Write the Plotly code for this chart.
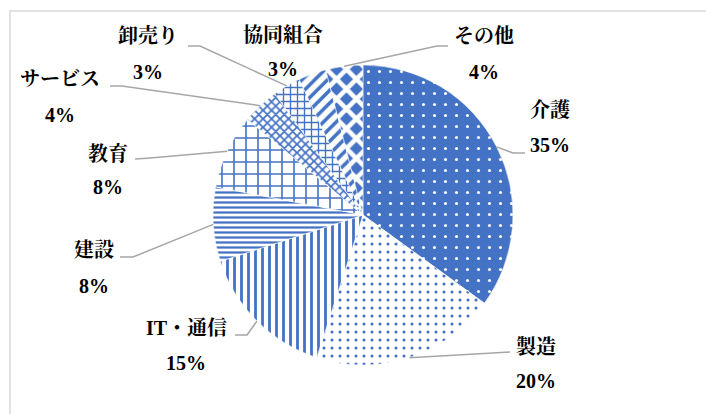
import plotly.graph_objects as go
import math

categories = ["介護", "製造", "IT・通信", "建設", "教育", "サービス", "卸売り", "協同組合", "その他"]
values = [35, 20, 15, 8, 8, 4, 3, 3, 4]

BLUE = "#4472C4"
W, H = 706, 414
CX, CY, R = 363, 215, 150

patterns = [
    dict(shape=".", bgcolor=BLUE, fgcolor="white", size=11, solidity=0.06),
    dict(shape=".", bgcolor="white", fgcolor=BLUE, size=8, solidity=0.12),
    dict(shape="|", bgcolor="white", fgcolor=BLUE, size=7, solidity=0.4),
    dict(shape="-", bgcolor="white", fgcolor=BLUE, size=5, solidity=0.45),
    dict(shape="+", bgcolor="white", fgcolor=BLUE, size=12, solidity=0.25),
    dict(shape="x", bgcolor="white", fgcolor=BLUE, size=6, solidity=0.5),
    dict(shape="+", bgcolor="white", fgcolor=BLUE, size=7, solidity=0.35),
    dict(shape="/", bgcolor="white", fgcolor=BLUE, size=9, solidity=0.4),
    dict(shape="x", bgcolor=BLUE, fgcolor="white", size=14, solidity=0.55),
]

fig = go.Figure(go.Pie(
    labels=categories,
    values=values,
    sort=False,
    direction="clockwise",
    rotation=0,
    textinfo="none",
    hoverinfo="label+percent",
    marker=dict(
        colors=["white"] * len(values),
        line=dict(color="white", width=0.5),
        pattern=dict(
            shape=[p["shape"] for p in patterns],
            bgcolor=[p["bgcolor"] for p in patterns],
            fgcolor=[p["fgcolor"] for p in patterns],
            size=[p["size"] for p in patterns],
            solidity=[p["solidity"] for p in patterns],
            fillmode="replace",
        ),
    ),
    domain=dict(x=[(CX - R) / W, (CX + R) / W], y=[1 - (CY + R) / H, 1 - (CY - R) / H]),
    showlegend=False,
))

# label layout: (name center x, name center y, pct center y, elbow start (x,y), elbow mid (x,y) or None)
label_layout = [
    (550, 110, 145, (525, 153), (513, 153)),
    (536, 346, 381, (510, 352), None),
    (186, 328, 363, (235, 335), (247, 335)),
    (94, 250, 286, (120, 257), (133, 257)),
    (108, 153, 187, (135, 159), (150, 158)),
    (60, 79, 115, (110, 86), (122, 86)),
    (148, 36, 72, (188, 46), (200, 46)),
    (283, 35, 69, None, None),
    (484, 36, 72, (448, 46), (437, 46)),
]

def px(x):
    return x / W

def py(y):
    return 1 - y / H

FONT = dict(family="Liberation Serif, Noto Serif CJK JP, Noto Sans CJK JP", size=20, color="black", weight="bold")

shapes = [dict(type="rect", xref="paper", yref="paper", x0=px(10), y0=py(11), x1=px(760), y1=py(460),
               line=dict(color="#D9D9D9", width=1.5), fillcolor="rgba(0,0,0,0)")]
annotations = []
total = sum(values)
cum = 0
for cat, v, lay in zip(categories, values, label_layout):
    mid = (cum + v / 2) / total * 2 * math.pi
    cum += v
    ex = CX + R * math.sin(mid)
    ey = CY - R * math.cos(mid)
    nx, ny, pyy, start, elbow = lay
    annotations.append(dict(x=px(nx), y=py(ny), xref="paper", yref="paper", text=cat,
                            showarrow=False, font=FONT, xanchor="center", yanchor="middle"))
    annotations.append(dict(x=px(nx), y=py(pyy), xref="paper", yref="paper", text=f"{v}%",
                            showarrow=False, font=FONT, xanchor="center", yanchor="middle"))
    if start is not None:
        pts = [start] + ([elbow] if elbow else []) + [(ex, ey)]
        path = "M " + " L ".join(f"{px(a)},{py(b)}" for a, b in pts)
        shapes.append(dict(type="path", xref="paper", yref="paper", path=path,
                           line=dict(color="#A6A6A6", width=1.5)))

fig.update_layout(
    width=W, height=H,
    margin=dict(l=0, r=0, t=0, b=0),
    paper_bgcolor="white",
    plot_bgcolor="white",
    shapes=shapes,
    annotations=annotations,
)

fig.write_html("out.html")
